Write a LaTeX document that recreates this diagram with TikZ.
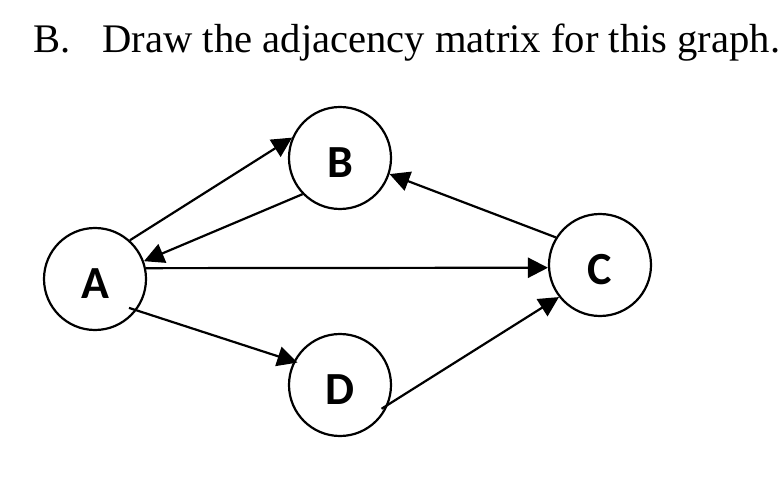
\documentclass[tikz,border=0pt]{standalone}
\usepackage{fontspec}
\setmainfont{Liberation Serif}
\newfontfamily\lblfont{Carlito}[BoldFont={Carlito Bold}]
\usetikzlibrary{arrows.meta}
\tikzset{link/.style={line width=1.1pt, -{Triangle[length=10pt, width=10pt]}},
  vtx/.style={draw, circle, line width=1.1pt, minimum size=51pt, inner sep=0pt,
    text height=19.5pt, text depth=0pt, font=\lblfont\bfseries\fontsize{23}{23}\selectfont}}

\begin{document}
\begin{tikzpicture}[x=0.5pt, y=-0.5pt]
  \useasboundingbox (0,0) rectangle (780,480);
  % title
  \node[anchor=base west, inner sep=0pt, font=\fontsize{20.3}{24}\selectfont] (title) at (33,53)
    {B.\hspace{16pt}Draw the adjacency matrix for this graph.};
  % vertices
  \node[vtx] (A) at (95,279)  {A};
  \node[vtx] (B) at (340,158) {B};
  \node[vtx] (C) at (600,265) {C};
  \node[vtx] (D) at (340,385) {D};
  % arcs
  \draw[link] (A.48) -- (B.157);
  \draw[link] (B.224) -- (A.20);
  \draw[link] (A.12) -- (C.183);
  \draw[link] (C.148) -- (B.-18);
  \draw[link, shorten <=-4pt, shorten >=-2pt] (A.-37) -- (D.153);
  \draw[link, shorten <=-4pt] (D.-22) -- (C.218);
\end{tikzpicture}
\end{document}
